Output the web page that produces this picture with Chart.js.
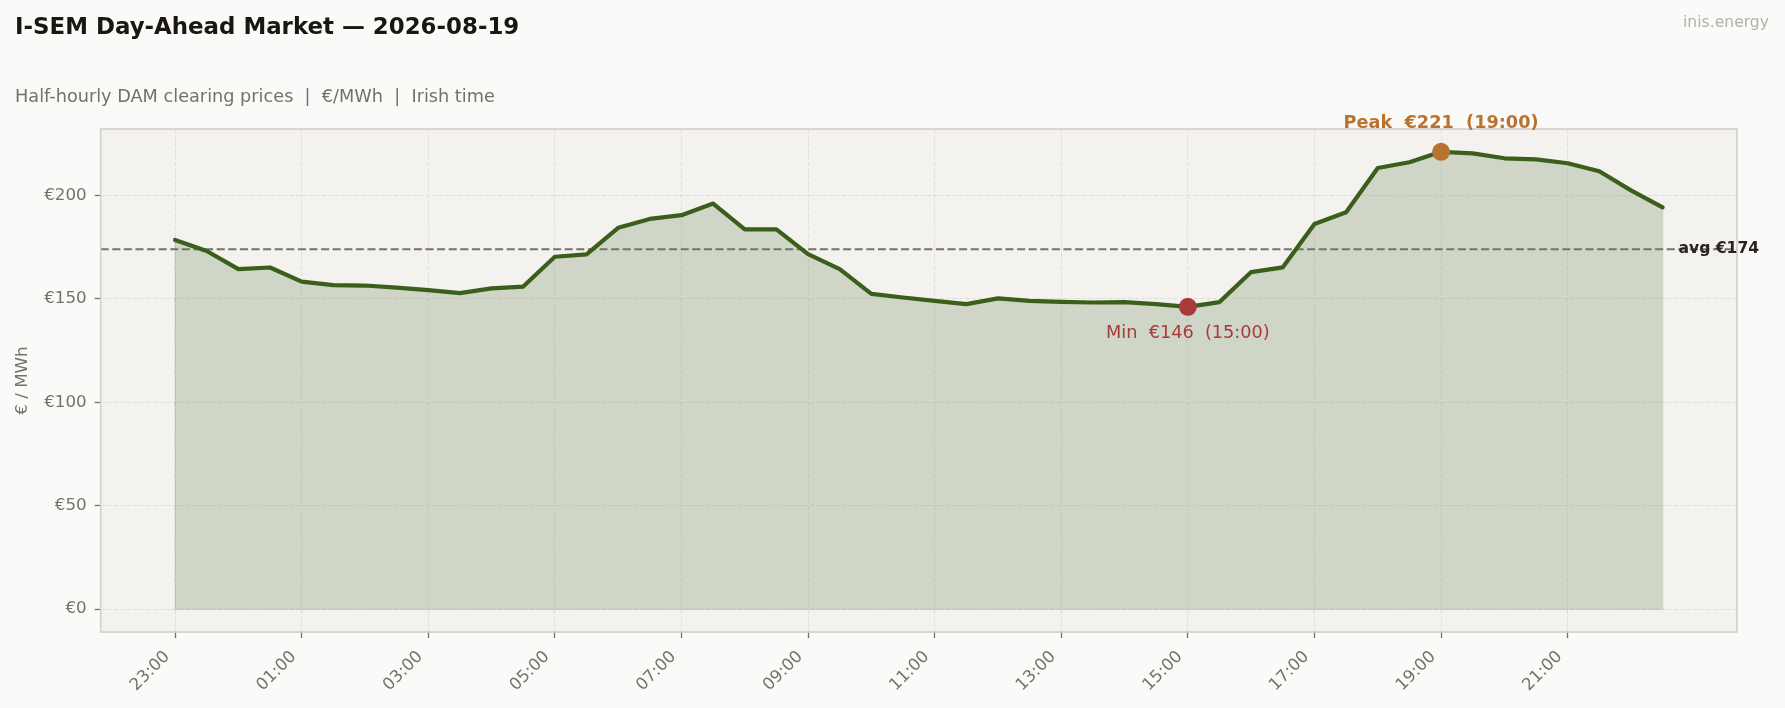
<!DOCTYPE html>
<html>
<head>
<meta charset="utf-8">
<script src="https://cdn.jsdelivr.net/npm/chart.js@4.4.1/dist/chart.umd.min.js"></script>
<style>
  html, body { margin: 0; padding: 0; background: #FAFAF8; }
  #wrap { width: 1785px; height: 708px; position: relative; }
</style>
</head>
<body>
<div id="wrap"><canvas id="dam"></canvas></div>
<script>
/* global Chart */

// half-hourly periods, Irish time
const times = [
  "23:00", "23:30", "00:00", "00:30", "01:00", "01:30", "02:00", "02:30",
  "03:00", "03:30", "04:00", "04:30", "05:00", "05:30", "06:00", "06:30",
  "07:00", "07:30", "08:00", "08:30", "09:00", "09:30", "10:00", "10:30",
  "11:00", "11:30", "12:00", "12:30", "13:00", "13:30", "14:00", "14:30",
  "15:00", "15:30", "16:00", "16:30", "17:00", "17:30", "18:00", "18:30",
  "19:00", "19:30", "20:00", "20:30", "21:00", "21:30", "22:00", "22:30"
];

// DAM clearing price, €/MWh
const prices = [
  178.4, 173.1, 164.3, 165.1, 158.3, 156.6, 156.4, 155.4,
  154.2, 152.7, 155.0, 155.9, 170.3, 171.5, 184.3, 188.6,
  190.4, 196.0, 183.5, 183.5, 171.6, 164.3, 152.4, 150.6,
  149.0, 147.4, 150.2, 149.0, 148.5, 148.2, 148.4, 147.4,
  146.1, 148.4, 162.9, 165.2, 186.1, 191.8, 213.2, 216.0,
  221.0, 220.3, 217.9, 217.4, 215.5, 211.6, 202.4, 194.2
];

const xTickLabels = ["23:00", "01:00", "03:00", "05:00", "07:00", "09:00",
                     "11:00", "13:00", "15:00", "17:00", "19:00", "21:00"];
const yTickValues = [0, 50, 100, 150, 200];

const FONT = '"DejaVu Sans", sans-serif';
const GREEN = "#3b5e1a";
const PEAK_COL = "#b87332";
const MIN_COL = "#a83a3c";
const GRID_COL = "#e2dfda";
const TICK_COL = "#77716b";

let n = prices.length;
let peakIdx = prices.indexOf(Math.max(...prices));
let minIdx = prices.indexOf(Math.min(...prices));
let avg = prices.reduce((a, b) => a + b, 0) / n;

let xMin = -0.05 * (n - 1);
let xMax = (n - 1) * 1.05;
let yMin = -0.05 * prices[peakIdx];
let yMax = prices[peakIdx] * 1.05;

const decorations = {
    id: "decorations",
    beforeDraw(chart) {
        let ctx = chart.ctx;
        let a = chart.chartArea;
        ctx.save();
        ctx.fillStyle = "#FAFAF8";
        ctx.fillRect(0, 0, chart.width, chart.height);
        ctx.fillStyle = "#f3f2ef";
        ctx.fillRect(a.left, a.top, a.right - a.left, a.bottom - a.top);
        ctx.restore();
    },
    beforeDatasetsDraw(chart) {
        // faint outline of the filled area (sides and base)
        let ctx = chart.ctx;
        let xs = chart.scales.x;
        let ys = chart.scales.y;
        ctx.save();
        ctx.strokeStyle = "rgba(59, 94, 26, 0.13)";
        ctx.lineWidth = 1.5;
        ctx.beginPath();
        ctx.moveTo(xs.getPixelForValue(0), ys.getPixelForValue(prices[0]));
        ctx.lineTo(xs.getPixelForValue(0), ys.getPixelForValue(0));
        ctx.lineTo(xs.getPixelForValue(n - 1), ys.getPixelForValue(0));
        ctx.lineTo(xs.getPixelForValue(n - 1), ys.getPixelForValue(prices[n - 1]));
        ctx.stroke();
        ctx.restore();
    },
    afterDraw(chart) {
        let ctx = chart.ctx;
        let a = chart.chartArea;
        let xs = chart.scales.x;
        let ys = chart.scales.y;
        ctx.save();

        // axes frame
        ctx.strokeStyle = "#d3cfc9";
        ctx.lineWidth = 1.6;
        ctx.strokeRect(a.left, a.top, a.right - a.left, a.bottom - a.top);

        // titles
        ctx.textAlign = "left";
        ctx.textBaseline = "alphabetic";
        ctx.fillStyle = "#1a1612";
        ctx.font = "bold 22.9px " + FONT;
        ctx.fillText("I-SEM Day-Ahead Market \u2014 2026-08-19", 15, 33.5);
        ctx.fillStyle = "#75706a";
        ctx.font = "17.7px " + FONT;
        ctx.fillText("Half-hourly DAM clearing prices  |  \u20ac/MWh  |  Irish time", 15, 101.5);

        ctx.textAlign = "right";
        ctx.fillStyle = "#b5b1ac";
        ctx.font = "15.6px " + FONT;
        ctx.fillText("inis.energy", 1769, 27);

        // y axis title
        ctx.save();
        ctx.translate(23, (a.top + a.bottom) / 2);
        ctx.rotate(-Math.PI / 2);
        ctx.textAlign = "center";
        ctx.textBaseline = "middle";
        ctx.fillStyle = TICK_COL;
        ctx.font = "16.7px " + FONT;
        ctx.fillText("\u20ac / MWh", 0, 0);
        ctx.restore();

        // peak / min labels
        ctx.textAlign = "center";
        ctx.textBaseline = "alphabetic";
        ctx.fillStyle = PEAK_COL;
        ctx.font = "bold 17.7px " + FONT;
        ctx.fillText("Peak  \u20ac" + Math.round(prices[peakIdx]) + "  (" + times[peakIdx] + ")",
            xs.getPixelForValue(peakIdx), ys.getPixelForValue(prices[peakIdx]) - 24);
        ctx.fillStyle = MIN_COL;
        ctx.font = "17.7px " + FONT;
        ctx.fillText("Min  \u20ac" + Math.round(prices[minIdx]) + "  (" + times[minIdx] + ")",
            xs.getPixelForValue(minIdx), ys.getPixelForValue(prices[minIdx]) + 31);

        // average label
        ctx.textAlign = "left";
        ctx.textBaseline = "middle";
        ctx.fillStyle = "#2a2420";
        ctx.font = "bold 15.6px " + FONT;
        ctx.fillText("avg \u20ac" + Math.round(avg), xs.getPixelForValue(n - 0.5), ys.getPixelForValue(avg));

        ctx.restore();
    }
};

let chart = new Chart("dam", {
    type: "line",
    data: {
        datasets: [
            {
                label: "peak",
                data: [{ x: peakIdx, y: prices[peakIdx] }],
                showLine: false,
                pointRadius: 9,
                pointBackgroundColor: PEAK_COL,
                pointBorderWidth: 0,
                order: 0
            },
            {
                label: "min",
                data: [{ x: minIdx, y: prices[minIdx] }],
                showLine: false,
                pointRadius: 9,
                pointBackgroundColor: MIN_COL,
                pointBorderWidth: 0,
                order: 0
            },
            {
                label: "price",
                data: prices.map((v, i) => ({ x: i, y: v })),
                borderColor: GREEN,
                borderWidth: 4.2,
                backgroundColor: "rgba(59, 94, 26, 0.19)",
                fill: "origin",
                pointRadius: 0,
                tension: 0,
                borderJoinStyle: "round",
                borderCapStyle: "round",
                order: 1
            },
            {
                label: "avg",
                data: [{ x: xMin, y: avg }, { x: xMax, y: avg }],
                borderColor: "#75716b",
                borderWidth: 2,
                borderDash: [8, 3.6],
                pointRadius: 0,
                fill: false,
                order: 2
            }
        ]
    },
    options: {
        responsive: true,
        maintainAspectRatio: false,
        animation: false,
        devicePixelRatio: 1,
        layout: { padding: { top: 129, right: 48, left: 0, bottom: 0 } },
        plugins: {
            legend: { display: false },
            tooltip: { enabled: false },
            filler: { drawTime: "beforeDatasetsDraw" }
        },
        scales: {
            x: {
                type: "linear",
                min: xMin,
                max: xMax,
                afterBuildTicks: (s) => {
                    s.ticks = xTickLabels.map(t => ({ value: times.indexOf(t) }));
                },
                afterFit: (s) => { s.height = 76; },
                ticks: {
                    callback: (v) => times[v],
                    minRotation: 45,
                    maxRotation: 45,
                    autoSkip: false,
                    labelOffset: -8,
                    padding: 9,
                    color: TICK_COL,
                    font: { family: FONT, size: 16.7 }
                },
                grid: {
                    color: GRID_COL,
                    lineWidth: 1,
                    tickLength: 6,
                    tickColor: TICK_COL,
                    tickWidth: 1.3,
                    tickBorderDash: []
                },
                border: { display: false, dash: [4.5, 2] }
            },
            y: {
                min: yMin,
                max: yMax,
                afterBuildTicks: (s) => {
                    s.ticks = yTickValues.map(v => ({ value: v }));
                },
                afterFit: (s) => { s.width = 100.7; },
                ticks: {
                    callback: (v) => "\u20ac" + v,
                    padding: 8,
                    color: TICK_COL,
                    font: { family: FONT, size: 16.7 }
                },
                grid: {
                    color: GRID_COL,
                    lineWidth: 1,
                    tickLength: 6,
                    tickColor: TICK_COL,
                    tickWidth: 1.3,
                    tickBorderDash: []
                },
                border: { display: false, dash: [4.5, 2] }
            }
        }
    },
    plugins: [decorations]
});
</script>
</body>
</html>
